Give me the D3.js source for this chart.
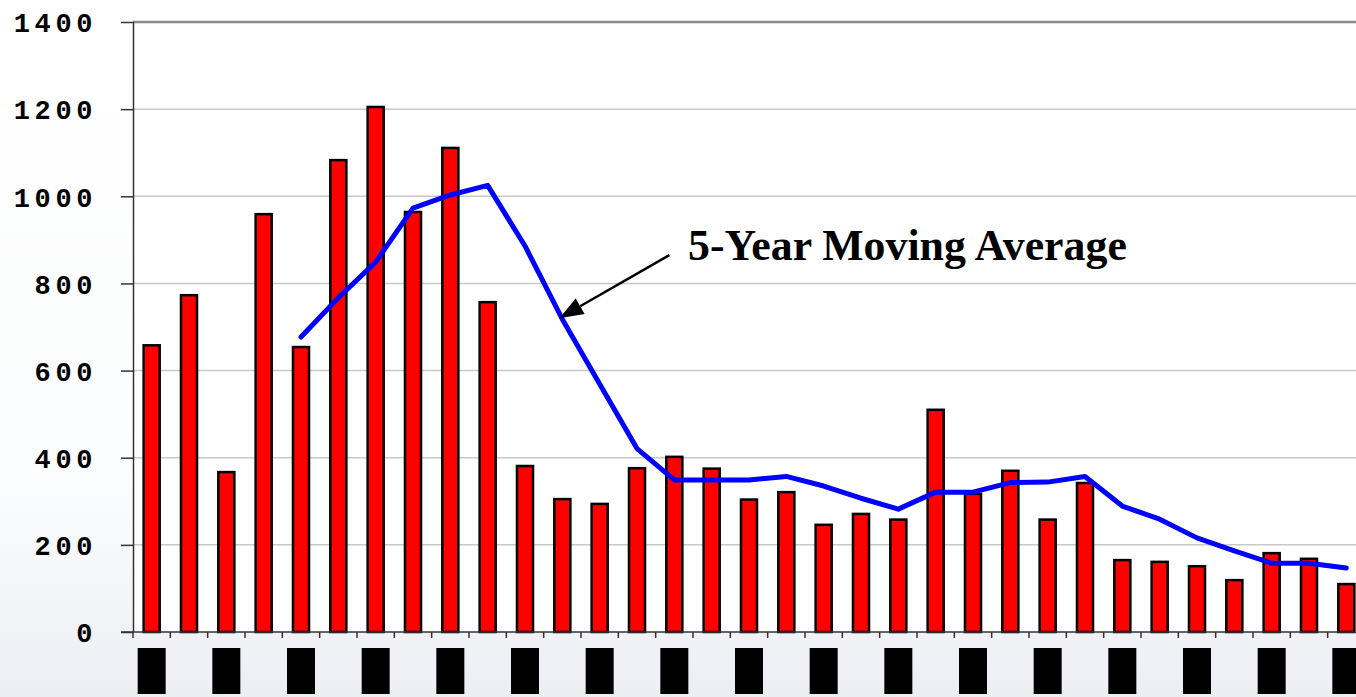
<!DOCTYPE html>
<html><head><meta charset="utf-8">
<script src="https://cdn.jsdelivr.net/npm/d3@7"></script>
<style>html,body{margin:0;padding:0;background:#fff;overflow:hidden}</style>
</head><body>
<svg id="c" width="1356" height="697"></svg>
<script>
const categories = ["C01","C02","C03","C04","C05","C06","C07","C08","C09","C10","C11","C12","C13","C14","C15","C16","C17","C18","C19","C20","C21","C22","C23","C24","C25","C26","C27","C28","C29","C30","C31","C32","C33"];
const barValues = [658, 773, 367, 959, 654, 1083, 1205, 964, 1111, 757, 381, 305, 294, 376, 402, 375, 304, 321, 246, 271, 258, 510, 317, 370, 258, 342, 165, 161, 151, 119, 181, 168, 110];
const movingAvg = [null, null, null, null, 677, 767, 849, 973, 1003, 1025, 886, 718, 569, 421, 349, 349, 349, 357, 335, 307, 282, 321, 321, 343, 344, 357, 289, 259, 216, 186, 158, 158, 147];
const yTicks = [0, 200, 400, 600, 800, 1000, 1200, 1400];
const annotationText = "5-Year Moving Average";

const W = 1356, H = 697;
const L = 133, R = 1365, T = 22, B = 632;
const svg = d3.select("#c");

// background gradient
const defs = svg.append("defs");
const g1 = defs.append("linearGradient").attr("id","bg").attr("x1",0).attr("y1",0).attr("x2",0).attr("y2",1);
g1.append("stop").attr("offset","0%").attr("stop-color","#ffffff");
g1.append("stop").attr("offset","70%").attr("stop-color","#fbfcfd");
g1.append("stop").attr("offset","100%").attr("stop-color","#eceef3");
svg.append("rect").attr("width",W).attr("height",H).attr("fill","url(#bg)");
svg.append("rect").attr("x",L).attr("y",T).attr("width",R-L).attr("height",B-T).attr("fill","#fff");

const x = d3.scaleBand().domain(categories).range([L,R]).paddingInner(0.57).paddingOuter(0.285);
const y = d3.scaleLinear().domain([0,1400]).range([B,T]);
const step = x.step();
const xc = c => x(c) + x.bandwidth()/2;

// gridlines
svg.append("g").selectAll("line").data(yTicks.filter(d=>d>0)).join("line")
  .attr("x1",L).attr("x2",R).attr("y1",d=>y(d)).attr("y2",d=>y(d))
  .attr("stroke",d=>d===1400?"#8a8a8a":"#c8c8c8").attr("stroke-width",d=>d===1400?2.5:1.5);

// bars
svg.append("g").selectAll("rect").data(barValues).join("rect")
  .attr("x",(d,i)=>x(categories[i])).attr("width",x.bandwidth())
  .attr("y",d=>y(d)).attr("height",d=>B-y(d))
  .attr("fill","#ff0000").attr("stroke","#000").attr("stroke-width",2.5);

// y axis
const ya = d3.axisLeft(y).tickValues(yTicks).tickSize(12).tickFormat(d3.format("d"));
const yg = svg.append("g").attr("transform",`translate(${L},0)`).call(ya);
yg.select(".domain").attr("stroke","#333").attr("stroke-width",1.5).attr("d",`M0.5,${T}V${B}`);
yg.selectAll(".tick line").attr("stroke","#333").attr("stroke-width",1.5);
yg.selectAll(".tick text").attr("x",-36).attr("font-family","'Liberation Mono', monospace")
  .attr("font-weight","bold").attr("font-size",27).attr("letter-spacing","4.6px").attr("fill","#000")
  .attr("dy","0.36em");

// x axis baseline and ticks at band boundaries
svg.append("line").attr("x1",L-12).attr("x2",R).attr("y1",B).attr("y2",B).attr("stroke","#333").attr("stroke-width",1.5);
svg.append("g").selectAll("line").data(categories).join("line")
  .attr("x1",c=>x(c)-x.bandwidth()*0.0 - (step-x.bandwidth())/2).attr("x2",c=>x(c)-(step-x.bandwidth())/2)
  .attr("y1",B).attr("y2",B+6).attr("stroke","#333").attr("stroke-width",1.5);

// redacted category labels (black boxes on every other category)
svg.append("g").selectAll("rect").data(categories.filter((c,i)=>i%2===0)).join("rect")
  .attr("x",c=>xc(c)-14).attr("width",28).attr("y",648).attr("height",46).attr("fill","#000");

// moving average line
const line = d3.line().defined(d=>d!==null).x((d,i)=>xc(categories[i])).y(d=>y(d));
svg.append("path").datum(movingAvg).attr("d",line).attr("fill","none")
  .attr("stroke","#0000ff").attr("stroke-width",5).attr("stroke-linejoin","round").attr("stroke-linecap","round");

// annotation
const tipX = xc(categories[11]) - 3, tipY = y(movingAvg[11]) - 1;
const startX = tipX + 110, startY = tipY - 63;
const ang = Math.atan2(startY-tipY, startX-tipX);
const hl = 24, hw = 9;
const bx = tipX + hl*Math.cos(ang), by = tipY + hl*Math.sin(ang);
svg.append("line").attr("x1",startX).attr("y1",startY).attr("x2",bx).attr("y2",by).attr("stroke","#000").attr("stroke-width",2.5);
svg.append("path").attr("d",`M${tipX},${tipY}L${bx - hw*Math.sin(ang)},${by + hw*Math.cos(ang)}L${bx + hw*Math.sin(ang)},${by - hw*Math.cos(ang)}Z`).attr("fill","#000");
const t = svg.append("text").attr("x",688).attr("y",260).attr("font-family","'Liberation Serif', 'Times New Roman', serif")
  .attr("font-weight","bold").attr("font-size",40).attr("fill","#000").text(annotationText);
const len = t.node().getComputedTextLength();
t.attr("font-size", 40*439/len);
</script>
</body></html>
